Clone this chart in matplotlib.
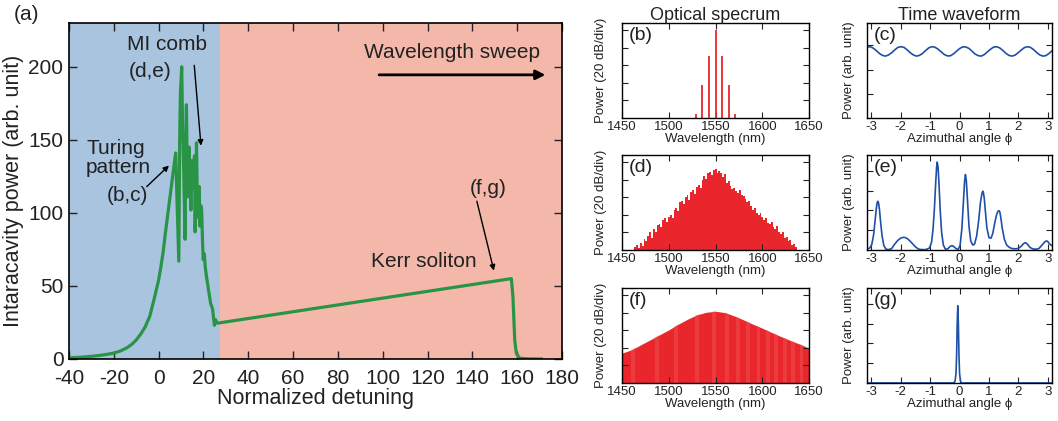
import numpy as np
import matplotlib
matplotlib.use('Agg')
import matplotlib.pyplot as plt

plt.rcParams['font.family'] = ['Liberation Sans', 'DejaVu Sans']
plt.rcParams['axes.unicode_minus'] = False
plt.rcParams['text.color'] = '#222222'
plt.rcParams['axes.labelcolor'] = '#222222'
plt.rcParams['xtick.color'] = '#222222'
plt.rcParams['ytick.color'] = '#222222'

# main trace: intracavity power vs normalized detuning
detuning = [-40, -35, -30, -25, -20, -17, -14, -12, -10, -8, -6, -4, -2, 0,
            1, 2, 3, 4, 5, 6, 7, 7.6,
            9.0, 9.4, 9.7, 10.3, 10.7, 11.2, 11.8, 12.1, 12.4, 12.9, 13.2, 13.6,
            14.0, 14.4, 15.0, 15.4, 15.7, 16.0, 16.3, 16.6, 16.9, 17.4, 17.8,
            18.1, 18.4, 18.8, 19.2, 19.6, 19.9, 20.4, 20.8, 21.4, 22.0, 22.5,
            23.2, 23.7, 24.1, 24.5, 24.9, 25.3, 25.6, 26.2,
            157.4, 158.1, 158.9, 159.6, 161.1, 165, 170.8]
power = [0.8, 1.2, 1.8, 2.7, 4.0, 5.5, 7.8, 10, 13, 17, 22, 29, 41, 54,
         63, 73, 86, 98, 110, 122, 134, 141,
         67, 150, 181, 200, 160, 129, 82, 140, 174, 111, 125, 145,
         120, 102, 136, 125, 118, 139, 87, 120, 148, 97, 110,
         118, 91, 105, 102, 80, 68, 72, 63, 56, 50, 45,
         38, 36, 34, 28, 23, 27, 26, 24.5,
         55, 42.7, 13, 3.9, 0.5, 0.1, 0.0]
chaos_edge = 27.3

# (b) Turing pattern spectrum
lam_b = [1529, 1536, 1543, 1550, 1557, 1564, 1571]
pow_b = [-95, -62, -29, 0, -29, -62, -95]

# (d) MI comb spectrum, lines every 2 nm from 1464 nm
pow_d = [-97, -94, -98, -92, -96, -88, -90, -84, -80, -86, -76, -79, -72, -70,
         -74, -66, -64, -68, -62, -60, -64, -55, -52, -56, -46, -44, -48, -40,
         -38, -43, -34, -32, -36, -28, -26, -30, -20, -16, -19, -13, -11, -15,
         -9, -8, -12, -10, -13, -17, -14, -24, -22, -27, -31, -29, -33, -35,
         -32, -38, -39, -42, -46, -44, -50, -54, -52, -58, -60, -58, -63, -66,
         -64, -69, -70, -68, -74, -76, -73, -80, -82, -80, -86, -85, -90, -89,
         -94, -93, -97]
lam_d = 1464 + 2 * np.arange(len(pow_d))

# (f) soliton spectrum envelope
lam_f = [1450, 1460, 1470, 1480, 1490, 1500, 1510, 1520, 1530, 1540, 1550,
         1560, 1570, 1580, 1590, 1600, 1610, 1620, 1630, 1640, 1650]
pow_f = [-66, -62.3, -56.6, -51, -45.3, -39.6, -33.2, -27.5, -22.6, -19.6,
         -18.5, -20, -23.8, -28.3, -33.2, -37.7, -42.6, -47.2, -51.7, -55.8,
         -60.4]
# light moire bands seen in the dense soliton comb
bands_f = [1462, 1487, 1508, 1530, 1548, 1562, 1574, 1585, 1596, 1606, 1615,
           1624, 1633, 1642]

# (c) Turing pattern waveform
phi_c = np.linspace(-np.pi, np.pi, 61)
wave_c = [2.93, 2.95, 2.89, 2.79, 2.67, 2.59, 2.56, 2.61, 2.70, 2.82, 2.92,
          2.95, 2.92, 2.82, 2.70, 2.61, 2.56, 2.59, 2.67, 2.79, 2.90, 2.95,
          2.93, 2.85, 2.74, 2.63, 2.57, 2.57, 2.65, 2.76, 2.87, 2.94, 2.94,
          2.88, 2.77, 2.65, 2.58, 2.56, 2.62, 2.73, 2.84, 2.93, 2.95, 2.90,
          2.80, 2.68, 2.59, 2.56, 2.60, 2.70, 2.81, 2.91, 2.95, 2.92, 2.83,
          2.71, 2.61, 2.56, 2.58, 2.67, 2.78]

# (e) MI comb waveform
phi_e = [-3.14, -3.05, -2.98, -2.92, -2.87, -2.83, -2.80, -2.78, -2.75, -2.72,
         -2.68, -2.63, -2.57, -2.50, -2.40, -2.30, -2.20, -2.10, -2.00, -1.90,
         -1.85, -1.78, -1.70, -1.60, -1.50, -1.40, -1.30, -1.15, -1.02, -0.95,
         -0.90, -0.85, -0.81, -0.78, -0.76, -0.73, -0.70, -0.66, -0.61, -0.55,
         -0.48, -0.40, -0.32, -0.25, -0.18, -0.10, -0.04, 0.02, 0.08, 0.13,
         0.17, 0.20, 0.23, 0.27, 0.32, 0.38, 0.45, 0.51, 0.58, 0.65, 0.71,
         0.76, 0.79, 0.81, 0.84, 0.88, 0.93, 1.00, 1.07, 1.13, 1.20, 1.26,
         1.31, 1.35, 1.37, 1.40, 1.45, 1.52, 1.60, 1.70, 1.80, 1.90, 2.00,
         2.10, 2.18, 2.24, 2.30, 2.40, 2.50, 2.60, 2.70, 2.80, 2.90, 2.96,
         3.00, 3.05, 3.10, 3.14]
wave_e = [0.05, 0.10, 0.28, 0.75, 1.45, 2.05, 2.38, 2.46, 2.38, 2.05, 1.40,
          0.70, 0.22, 0.04, 0.02, 0.08, 0.30, 0.48, 0.60, 0.64, 0.63, 0.58,
          0.48, 0.32, 0.16, 0.05, 0.02, 0.02, 0.10, 0.40, 1.05, 2.20, 3.40,
          4.15, 4.44, 4.20, 3.40, 2.10, 0.90, 0.25, 0.04, 0.06, 0.18, 0.22,
          0.15, 0.05, 0.04, 0.25, 1.10, 2.40, 3.45, 3.81, 3.50, 2.50, 1.20,
          0.45, 0.25, 0.30, 0.70, 1.50, 2.40, 2.85, 2.97, 2.90, 2.60, 1.90,
          1.10, 0.62, 0.60, 0.85, 1.40, 1.80, 1.97, 1.98, 1.90, 1.65, 1.10,
          0.55, 0.25, 0.12, 0.07, 0.06, 0.08, 0.20, 0.33, 0.37, 0.30, 0.12,
          0.05, 0.04, 0.08, 0.25, 0.42, 0.46, 0.42, 0.32, 0.25, 0.22]

# (g) soliton waveform
phi_g = [-3.14, -0.20, -0.15, -0.12, -0.10, -0.08, -0.06, -0.04, -0.02,
         0.00, 0.03, 0.06, 3.14]
wave_g = [0.0, 0.0, 0.1, 0.5, 1.4, 3.0, 3.9, 3.0, 1.4, 0.5, 0.1, 0.0, 0.0]

green = '#2a9446'
red = '#e8262b'
blue = '#1f50a8'

fig = plt.figure(figsize=(10.58, 4.21), dpi=100)

# ---- main panel ----
ax = fig.add_axes([0.0652, 0.1473, 0.466, 0.7981])
ax.axvspan(-40, chaos_edge, color='#a8c4df', lw=0, zorder=0)
ax.axvspan(chaos_edge, 180, color='#f3b8aa', lw=0, zorder=0)
ax.plot(detuning, power, color=green, lw=2.3)
ax.set_xlim(-40, 180)
ax.set_ylim(0, 230)
ax.set_xticks(np.arange(-40, 181, 20))
ax.set_yticks(np.arange(0, 201, 50))
ax.tick_params(direction='in', top=True, right=True, length=6, width=1,
               labelsize=15)
ax.tick_params(axis='x', pad=7)
ax.tick_params(axis='y', pad=4)
for s in ax.spines.values():
    s.set_linewidth(1.2)
ax.set_xlabel('Normalized detuning', fontsize=15.5, labelpad=0)
ax.set_ylabel('Intaracavity power (arb. unit)', fontsize=15.5, labelpad=3)

fs = 15
ax.text(3.6, 215, 'MI comb', fontsize=fs, ha='center', va='center')
ax.text(-3.6, 196.5, '(d,e)', fontsize=fs, ha='center', va='center')
ax.annotate('', xy=(18.9, 146), xytext=(15.9, 201),
            arrowprops=dict(arrowstyle='-|>', color='black', lw=1,
                            mutation_scale=8, shrinkA=0, shrinkB=0))
ax.text(-18.9, 144, 'Turing', fontsize=fs, ha='center', va='center')
ax.text(-17.8, 131, 'pattern', fontsize=fs, ha='center', va='center')
ax.text(-14, 112, '(b,c)', fontsize=fs, ha='center', va='center')
ax.annotate('', xy=(4.6, 132.4), xytext=(-5.3, 118),
            arrowprops=dict(arrowstyle='-|>', color='black', lw=1,
                            mutation_scale=8, shrinkA=0, shrinkB=0))
ax.text(131, 210, 'Wavelength sweep', fontsize=fs, ha='center', va='center')
ax.annotate('', xy=(172.6, 194.5), xytext=(98.4, 194.5),
            arrowprops=dict(arrowstyle='-|>', color='black', lw=2,
                            mutation_scale=14, shrinkA=0, shrinkB=0))
ax.text(118.2, 66.4, 'Kerr soliton', fontsize=fs, ha='center', va='center')
ax.text(147, 117, '(f,g)', fontsize=fs, ha='center', va='center')
ax.annotate('', xy=(149.6, 60.5), xytext=(142, 108),
            arrowprops=dict(arrowstyle='-|>', color='black', lw=1,
                            mutation_scale=8, shrinkA=0, shrinkB=0))
fig.text(0.013, 0.965, '(a)', fontsize=15, va='center')

# ---- small panels ----
col_left = [0.588, 0.8195]
col_w = [0.1767, 0.1749]
row_bottom = [0.7197, 0.4062, 0.0903]
row_h = 0.2257


def small_axes(col, row):
    a = fig.add_axes([col_left[col], row_bottom[row], col_w[col], row_h])
    a.tick_params(direction='in', top=True, right=True, length=4, width=0.8,
                  labelsize=9.5, pad=2)
    for s in a.spines.values():
        s.set_linewidth(1.0)
    return a


def spectrum_style(a, label):
    a.set_xlim(1450, 1650)
    a.set_ylim(-100, 8)
    a.set_xticks([1450, 1500, 1550, 1600, 1650])
    a.set_yticks([-80, -60, -40, -20, 0])
    a.set_yticklabels([])
    a.set_xlabel('Wavelength (nm)', fontsize=9.5, labelpad=0)
    a.set_ylabel('Power (20 dB/div)', fontsize=9.5, labelpad=9)
    a.text(0.035, 0.955, label, transform=a.transAxes, fontsize=14,
           va='top', ha='left')


def wave_style(a, label, ymax, yt):
    a.set_xlim(-np.pi, np.pi)
    a.set_ylim(0, ymax)
    a.set_xticks([-3, -2, -1, 0, 1, 2, 3])
    a.set_yticks(yt)
    a.set_yticklabels([])
    a.set_xlabel('Azimuthal angle \u03d5', fontsize=9.5, labelpad=0)
    a.set_ylabel('Power (arb. unit)', fontsize=9.5, labelpad=7)
    a.text(0.035, 0.955, label, transform=a.transAxes, fontsize=14,
           va='top', ha='left')


ab = small_axes(0, 0)
ab.vlines(lam_b, -100, pow_b, color=red, lw=1.3)
spectrum_style(ab, '(b)')
ab.set_title('Optical specrum', fontsize=13, pad=2)

ad = small_axes(0, 1)
ad.bar(lam_d, np.array(pow_d) + 100, width=2.0, bottom=-100, color=red,
       lw=0)
spectrum_style(ad, '(d)')

af = small_axes(0, 2)
env = af.fill_between(lam_f, -100, pow_f, color=red, lw=0)
clip = env.get_paths()[0]
for b in bands_f:
    stripe = af.axvspan(b - 2, b + 2, color='#f05555', lw=0, alpha=0.45)
    stripe.set_clip_path(clip, af.transData)
spectrum_style(af, '(f)')

ac = small_axes(1, 0)
ac.plot(phi_c, wave_c, color=blue, lw=1.2)
wave_style(ac, '(c)', 3.93, [1, 2, 3])
ac.set_title('Time waveform', fontsize=13, pad=2)

ae = small_axes(1, 1)
ae.plot(phi_e, wave_e, color=blue, lw=1.2)
wave_style(ae, '(e)', 4.8, [1, 2, 3, 4])

ag = small_axes(1, 2)
ag.plot(phi_g, wave_g, color=blue, lw=1.2)
wave_style(ag, '(g)', 4.8, [1, 2, 3, 4])

fig.savefig('out.png', dpi=100)
